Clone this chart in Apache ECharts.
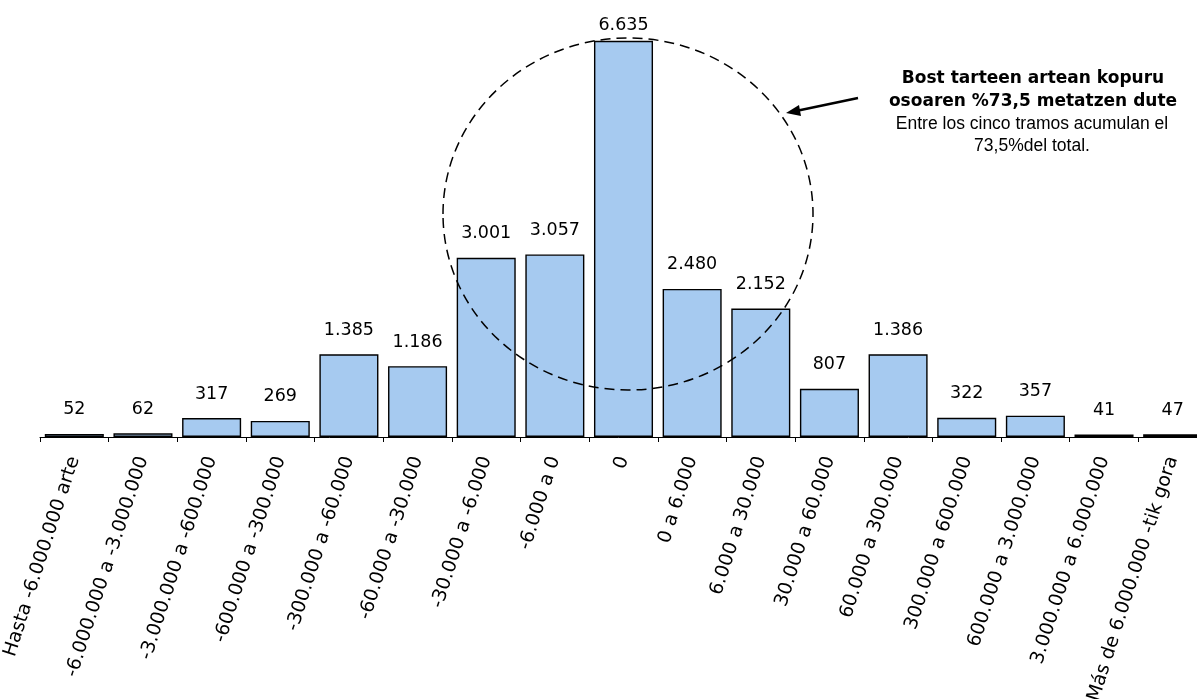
<!DOCTYPE html>
<html>
<head>
<meta charset="utf-8">
<script src="https://cdn.jsdelivr.net/npm/echarts@6/dist/echarts.min.js"></script>
<style>
html,body{margin:0;padding:0;background:#fff;}
#chart{width:1197px;height:699px;}
</style>
</head>
<body>
<div id="chart"></div>
<script>
var categories = [
  'Hasta -6.000.000 arte', '-6.000.000 a -3.000.000', '-3.000.000 a -600.000',
  '-600.000 a -300.000', '-300.000 a -60.000', '-60.000 a -30.000',
  '-30.000 a -6.000', '-6.000 a 0', '0', '0 a 6.000', '6.000 a 30.000',
  '30.000 a 60.000', '60.000 a 300.000', '300.000 a 600.000',
  '600.000 a 3.000.000', '3.000.000 a 6.000.000', 'Más de 6.000.000 -tik gora'
];
var values = [52, 62, 317, 269, 1385, 1186, 3001, 3057, 6635, 2480, 2152, 807, 1386, 322, 357, 41, 47];
var annotationBold = ['Bost tarteen artean kopuru', 'osoaren %73,5 metatzen dute'];
var annotationNormal = ['Entre los cinco tramos acumulan el', '73,5%del total.'];

function fmt(v) {
  return String(v).replace(/\B(?=(\d{3})+(?!\d))/g, '.');
}

var chart = echarts.init(document.getElementById('chart'));
var seriesData = values.map(function (v, i) {
  var item = { value: v };
  if (v === Math.max.apply(null, values)) item.label = { distance: 6 };
  return item;
});

var graphics = [
  {
    type: 'ellipse',
    shape: { cx: 628, cy: 214, rx: 185, ry: 176 },
    style: { fill: null, stroke: '#000', lineWidth: 1.5, lineDash: [10, 6] },
    z: 100
  },
  {
    type: 'line',
    shape: { x1: 858, y1: 98, x2: 796, y2: 111 },
    style: { stroke: '#000', lineWidth: 2.5 },
    z: 100
  },
  {
    type: 'polygon',
    shape: { points: [[786, 113], [799, 105], [801, 116]] },
    style: { fill: '#000' },
    z: 100
  }
];
annotationBold.forEach(function (t, i) {
  graphics.push({
    type: 'text', x: 1033, y: 79 + i * 22.5,
    style: { text: t, fill: '#000', font: 'bold 17px "DejaVu Sans"', align: 'center', verticalAlign: 'middle' },
    z: 100
  });
});
annotationNormal.forEach(function (t, i) {
  graphics.push({
    type: 'text', x: 1032, y: 124 + i * 22.5,
    style: { text: t, fill: '#000', font: '17.5px "Liberation Sans"', align: 'center', verticalAlign: 'middle' },
    z: 100
  });
});

chart.setOption({
  animation: false,
  backgroundColor: '#fff',
  grid: { left: 40, top: 19, width: 1167, bottom: 262, containLabel: false, outerBoundsMode: 'none' },
  xAxis: {
    type: 'category',
    data: categories,
    axisLine: { lineStyle: { color: '#000', width: 1 } },
    axisTick: { show: true, length: 5, lineStyle: { color: '#000' } },
    axisLabel: {
      interval: 0, rotate: 72, margin: 20,
      fontFamily: 'DejaVu Sans', fontSize: 19, color: '#000'
    },
    splitLine: { show: false }
  },
  yAxis: {
    type: 'value', min: 0, max: 7000, interval: 1000,
    show: false, splitLine: { show: false }
  },
  series: [{
    type: 'bar',
    data: seriesData,
    barWidth: '86%',
    itemStyle: { color: '#a6caf0', borderColor: '#000', borderWidth: 1.4 },
    label: {
      show: true, position: 'top', distance: 15,
      fontFamily: 'DejaVu Sans', fontSize: 17.5, color: '#000',
      formatter: function (p) { return fmt(p.value); }
    }
  }],
  graphic: graphics
});
</script>
</body>
</html>
